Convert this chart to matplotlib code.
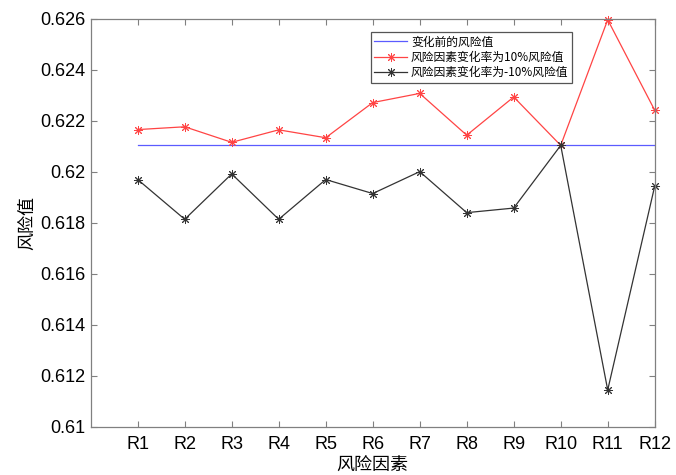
import numpy as np
import matplotlib.pyplot as plt
from matplotlib.ticker import FormatStrFormatter

plt.rcParams['font.family'] = ['Liberation Sans', 'Noto Sans CJK SC', 'DejaVu Sans']

# 风险因素及各情形下的风险值
factors = ['R1', 'R2', 'R3', 'R4', 'R5', 'R6', 'R7', 'R8', 'R9', 'R10', 'R11', 'R12']
base_value = 0.62104
plus10 = [0.62166, 0.62177, 0.62116, 0.62165, 0.62134, 0.62272,
          0.62308, 0.62144, 0.62294, 0.62104, 0.62597, 0.62242]
minus10 = [0.61970, 0.61814, 0.61992, 0.61814, 0.61970, 0.61915,
           0.62001, 0.61840, 0.61858, 0.62104, 0.61144, 0.61944]

x = np.arange(1, len(factors) + 1)
asterisk = (8, 2, 0)

fig = plt.figure(figsize=(6.76, 4.75), dpi=100)
ax = fig.add_axes([0.1342, 0.1017, 0.8343, 0.8583])

ax.plot(x, [base_value] * len(x), color='#5b5bff', lw=0.9, label='变化前的风险值')
ax.plot(x, plus10, color='#ff4444', lw=0.9, marker=asterisk, ms=6.5, mew=0.7,
        clip_on=False, label='风险因素变化率为10%风险值')
ax.plot(x, minus10, color='#333333', lw=0.9, marker=asterisk, ms=6.5, mew=0.7,
        clip_on=False, label='风险因素变化率为-10%风险值')

ax.set_xlim(0, 12)
ax.set_ylim(0.61, 0.626)
ax.set_xticks(x)
ax.set_xticklabels(factors)
ax.set_yticks(np.arange(0.61, 0.6261, 0.002))
ax.yaxis.set_major_formatter(FormatStrFormatter('%g'))

for s in ax.spines.values():
    s.set_color('#808080')
    s.set_linewidth(0.9)
ax.tick_params(direction='in', top=True, right=True, length=4, width=0.8,
               color='#808080', labelsize=13)
ax.tick_params(axis='x', pad=7)
ax.tick_params(axis='y', pad=4)

ax.set_xlabel('风险因素', fontsize=13, labelpad=2,
              family=['Noto Sans CJK SC', 'DejaVu Sans'])
ax.set_ylabel('风险值', fontsize=13, labelpad=3,
              family=['Noto Sans CJK SC', 'DejaVu Sans'])

leg = ax.legend(loc='upper left', bbox_to_anchor=(0.4967, 0.9685),
                handlelength=2.8, labelspacing=0.2,
                borderpad=0.3, handletextpad=0.3, fancybox=False,
                framealpha=1, borderaxespad=0,
                prop={'family': ['Noto Sans CJK SC', 'DejaVu Sans'], 'size': 8.5})
leg.get_frame().set_edgecolor('#555555')
leg.get_frame().set_linewidth(0.9)

fig.savefig('out.png', dpi=100)
